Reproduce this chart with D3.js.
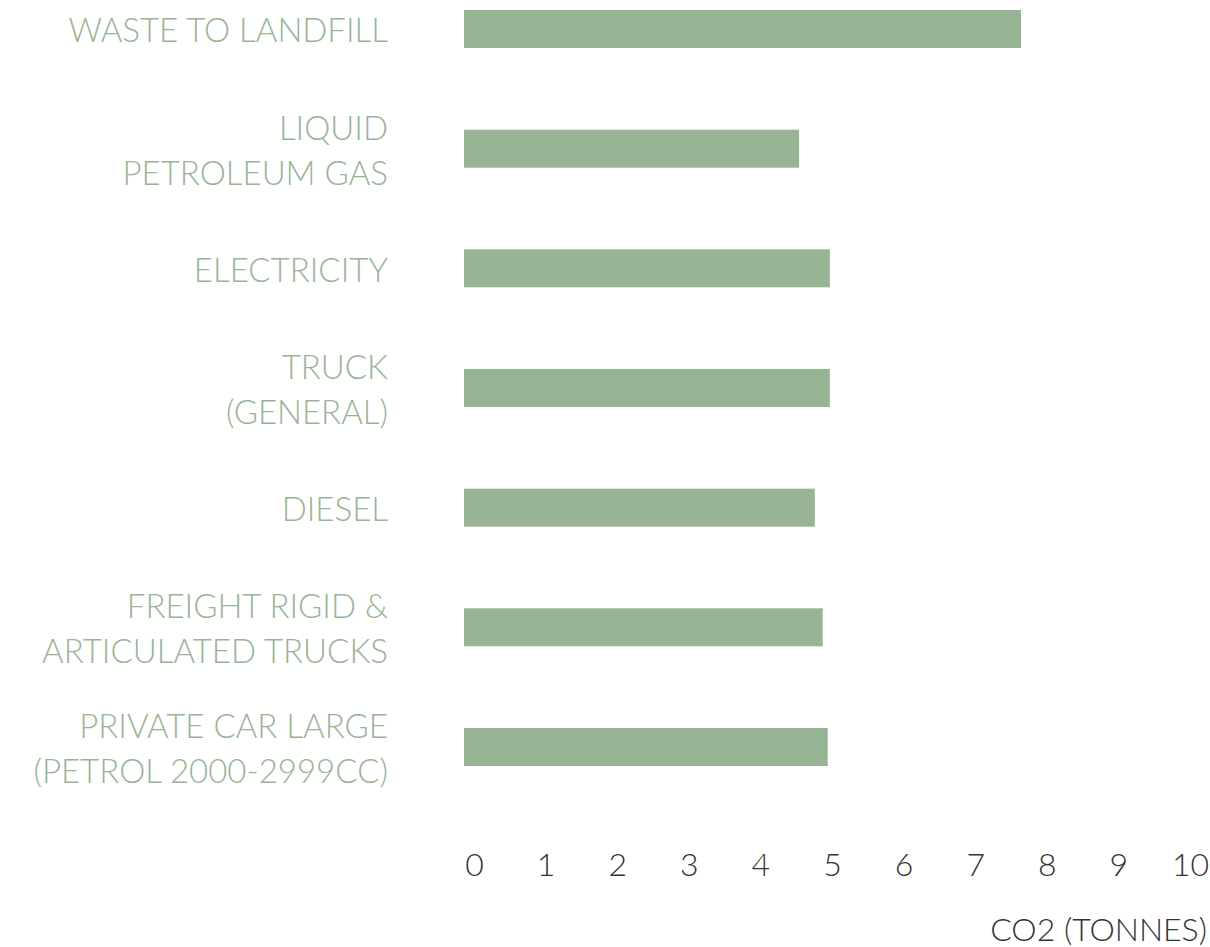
<!DOCTYPE html>
<html lang="en">
  <head>
    <meta charset="utf-8">
    <title>CO2 by source</title>
    <script src="https://d3js.org/d3.v7.min.js"></script>
    <style type="text/css">
      body {
        margin: 0;
        background-color: white;
      }
      .catLabel {
        fill: #97b594;
        font-family: Lato, sans-serif;
        font-weight: 300;
        font-size: 33px;
      }
      .tick text {
        fill: #333;
        font-family: Lato, sans-serif;
        font-weight: 300;
        font-size: 32px;
      }
      .axisTitle {
        fill: #333;
        font-family: Lato, sans-serif;
        font-weight: 300;
        font-size: 32px;
      }
    </style>
  </head>
  <body>
    <svg></svg>
    <script type="text/javascript">

    // categories, "|" marks a line break in the label
    const categories = [
      "WASTE TO LANDFILL",
      "LIQUID|PETROLEUM GAS",
      "ELECTRICITY",
      "TRUCK|(GENERAL)",
      "DIESEL",
      "FREIGHT RIGID &|ARTICULATED TRUCKS",
      "PRIVATE CAR LARGE|(PETROL 2000-2999CC)"
    ];
    const values = [7.78, 4.68, 5.11, 5.11, 4.90, 5.01, 5.08];
    const tickValues = [0, 1, 2, 3, 4, 5, 6, 7, 8, 9, 10];
    const axisTitle = "CO2 (TONNES)";

    const width = 1210;
    const height = 947;

    const svg = d3.select("svg")
      .attr("width", width)
      .attr("height", height);

    const x = d3.scaleLinear()
      .domain([0, 10])
      .range([464, 1180]);

    const y = d3.scaleBand()
      .domain(categories)
      .range([10, 766])
      .paddingInner(0.6825)
      .paddingOuter(0);

    const data = categories.map((c, i) => ({cat: c, value: values[i]}));

    svg.selectAll("rect.bar")
      .data(data)
      .enter()
      .append("rect")
      .attr("class", "bar")
      .attr("x", x(0))
      .attr("y", d => y(d.cat))
      .attr("width", d => x(d.value) - x(0))
      .attr("height", y.bandwidth())
      .attr("fill", "#97b594");

    const lineGap = 45;
    const labels = svg.selectAll("text.catLabel")
      .data(data)
      .enter()
      .append("text")
      .attr("class", "catLabel")
      .attr("text-anchor", "end")
      .attr("transform", d => {
        const lines = d.cat.split("|");
        const cy = y(d.cat) + y.bandwidth() / 2;
        const first = cy - (lines.length - 1) * lineGap / 2 + 13.5;
        return "translate(" + [388, first] + ")";
      });

    labels.selectAll("tspan")
      .data(d => d.cat.split("|"))
      .enter()
      .append("tspan")
      .attr("x", 0)
      .attr("dy", (d, i) => i === 0 ? 0 : lineGap)
      .text(d => d);

    // axis with no line or ticks, labels only
    const axis = svg.append("g")
      .attr("transform", "translate(0,853)")
      .call(d3.axisBottom(x).tickValues(tickValues).tickSize(0).tickPadding(0));
    axis.select(".domain").remove();
    axis.selectAll(".tick text")
      .attr("dx", 10)
      .attr("dy", "0.71em");

    svg.append("text")
      .attr("class", "axisTitle")
      .attr("x", 1207)
      .attr("y", 941)
      .attr("text-anchor", "end")
      .text(axisTitle);

    </script>
  </body>
</html>
